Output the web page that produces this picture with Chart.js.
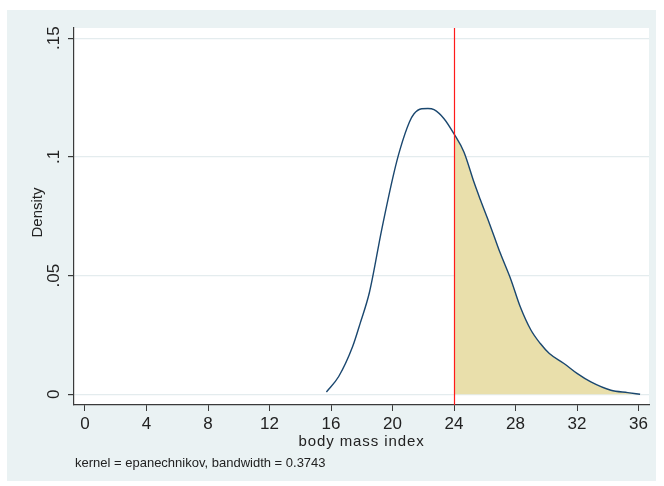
<!DOCTYPE html>
<html><head><meta charset="utf-8">
<script src="https://cdn.jsdelivr.net/npm/chart.js@4/dist/chart.umd.min.js"></script>
<style>html,body{margin:0;padding:0;background:#fff;overflow:hidden}#wrap{position:absolute;left:0;top:0;width:664px;height:486px}</style>
</head><body><div id="wrap"><canvas id="c" width="664" height="486"></canvas></div>
<script>
// ---- data ----
const bmi = [15.7, 16.5, 17.4, 17.9, 18.5, 19.3, 20.1, 20.5, 21.1, 21.4, 21.9, 22.3, 22.7, 23.35, 24.0, 24.65, 25.3, 25.7, 26.2, 26.6, 27.0, 27.7, 28.3, 29.0, 29.6, 30.2, 31.15, 32.0, 32.9, 34.2, 35.3, 36.1];
const density = [0.001, 0.0075, 0.020, 0.030, 0.043, 0.0695, 0.0935, 0.1034, 0.1147, 0.1182, 0.1203, 0.1204, 0.1199, 0.1161, 0.1097, 0.102, 0.0893, 0.0822, 0.0737, 0.0667, 0.0596, 0.0483, 0.037, 0.0271, 0.0215, 0.0172, 0.013, 0.0088, 0.0052, 0.0017, 0.0007, 0.0];
const cutoff = 24;
const xTicks = [0, 4, 8, 12, 16, 20, 24, 28, 32, 36];
const yTicks = [0, 0.05, 0.1, 0.15];
const yTickLabels = ['0', '.05', '.1', '.15'];
const xTitle = 'body mass index';
const yTitle = 'Density';
const note = 'kernel = epanechnikov, bandwidth = 0.3743';

// ---- styles ----
const FONT = '"Liberation Sans", Arial, sans-serif';
const TEXT = '#222';
const AXIS = '#3a3a3a';
const NAVY = '#1a476f';
const SAND = '#e9dfab';
const BG = '#eaf2f3';
const GRID = '#e4ecee';

const points = bmi.map((x, i) => ({x: x, y: density[i]}));
const shaded = points.filter(p => p.x >= cutoff);

const decor = {
  id: 'decor',
  beforeDraw(chart) {
    const c = chart.ctx, a = chart.chartArea;
    c.save();
    c.fillStyle = '#fff'; c.fillRect(0, 0, chart.width, chart.height);
    c.fillStyle = BG; c.fillRect(7, 10, 649, 471);
    c.fillStyle = '#fff'; c.fillRect(a.left, a.top, a.right - a.left, a.bottom - a.top);
    c.restore();
  },
  afterDatasetsDraw(chart) {
    const c = chart.ctx, a = chart.chartArea, xs = chart.scales.x;
    const px = Math.round(xs.getPixelForValue(cutoff)) + 0.5;
    c.save();
    c.strokeStyle = '#ff1a1a'; c.lineWidth = 1.2;
    c.beginPath(); c.moveTo(px, a.top); c.lineTo(px, a.bottom); c.stroke();
    c.restore();
  },
  afterDraw(chart) {
    const c = chart.ctx, a = chart.chartArea, ys = chart.scales.y;
    c.save();
    c.fillStyle = TEXT;
    c.textAlign = 'center'; c.textBaseline = 'middle';
    c.font = '17px ' + FONT;
    yTicks.forEach((v, i) => {
      const py = ys.getPixelForValue(v);
      c.save(); c.translate(54, py); c.rotate(-Math.PI / 2);
      c.fillText(yTickLabels[i], 0, 0); c.restore();
    });
    c.font = '15px ' + FONT;
    c.save(); c.translate(38, (a.top + a.bottom) / 2 - 4); c.rotate(-Math.PI / 2);
    c.fillText(yTitle, 0, 0); c.restore();
    c.letterSpacing = '0.9px';
    c.textBaseline = 'alphabetic';
    c.fillText(xTitle, (a.left + a.right) / 2, 446);
    c.letterSpacing = '0px';
    c.textAlign = 'left';
    c.font = '13px ' + FONT;
    c.fillText(note, 75, 467);
    c.restore();
  }
};

new Chart(document.getElementById('c'), {
  type: 'line',
  data: {
    datasets: [
      {data: shaded, fill: 'origin', backgroundColor: SAND, borderWidth: 0, borderColor: 'rgba(0,0,0,0)', pointRadius: 0, cubicInterpolationMode: 'monotone', order: 2},
      {data: points, fill: false, borderColor: NAVY, borderWidth: 1.4, pointRadius: 0, cubicInterpolationMode: 'monotone', order: 1}
    ]
  },
  options: {
    responsive: false, animation: false, devicePixelRatio: 1,
    layout: {padding: {left: 0, top: 28, right: 15, bottom: 0}},
    plugins: {legend: {display: false}, tooltip: {enabled: false}},
    scales: {
      x: {
        type: 'linear', min: -0.715, max: 36.68,
        afterBuildTicks(s) { s.ticks = xTicks.map(v => ({value: v})); },
        afterFit(s) { s.height = 81; },
        ticks: {callback: v => String(v), font: {family: FONT, size: 17}, color: TEXT, padding: 3, maxRotation: 0, minRotation: 0, autoSkip: false},
        grid: {drawOnChartArea: false, tickLength: 6, tickColor: AXIS, color: AXIS},
        border: {color: AXIS, width: 1.2}
      },
      y: {
        type: 'linear', min: -0.0045, max: 0.1543,
        afterBuildTicks(s) { s.ticks = yTicks.map(v => ({value: v})); },
        afterFit(s) { s.width = 74; },
        ticks: {callback: () => '', padding: 0},
        grid: {color: GRID, tickLength: 6, tickColor: AXIS, lineWidth: 1.2},
        border: {color: AXIS, width: 1.2}
      }
    }
  },
  plugins: [decor]
});
</script></body></html>
